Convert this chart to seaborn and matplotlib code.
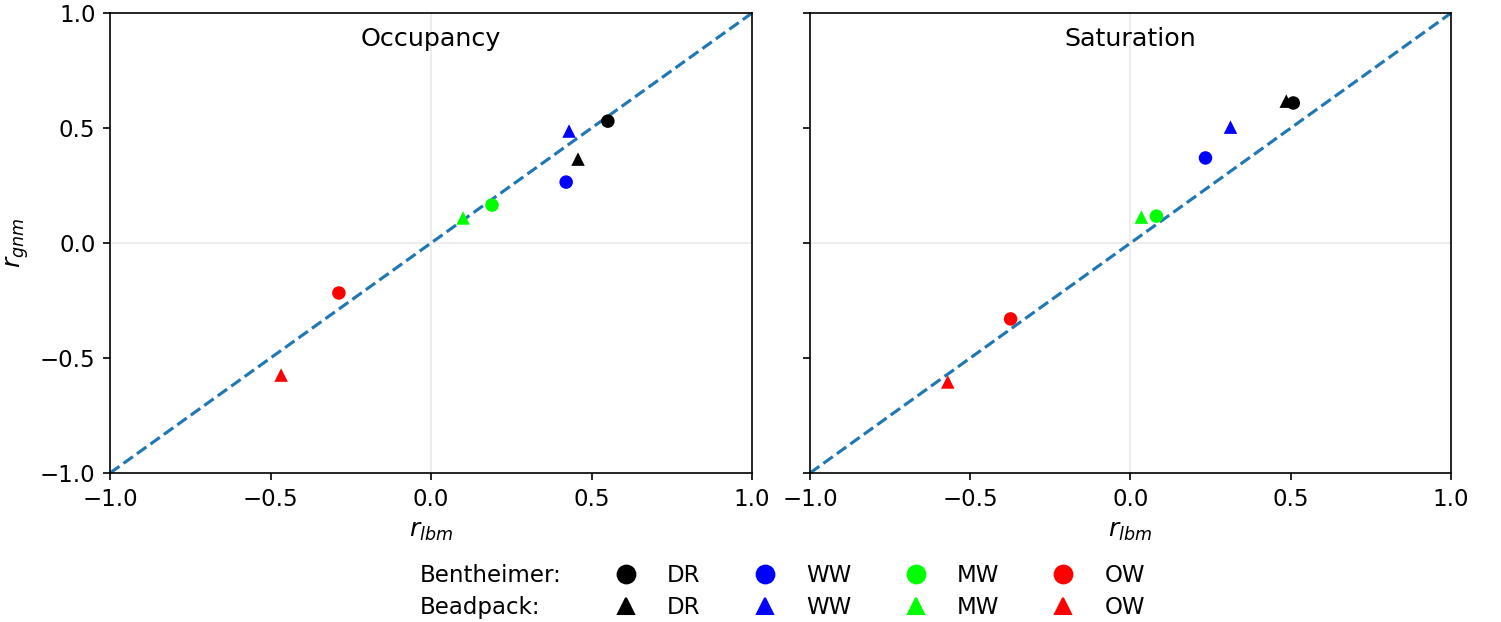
import matplotlib
matplotlib.use("Agg")
import matplotlib.pyplot as plt
from matplotlib.lines import Line2D
import pandas as pd
import seaborn as sns

# Correlation coefficients r_lbm (x) vs r_gnm (y) for each wettability class
wettability = ["DR", "WW", "MW", "OW"]
colors = ["black", "blue", "#00ff00", "red"]

# Occupancy panel
occ_bent_x = [0.551, 0.421, 0.190, -0.287]
occ_bent_y = [0.530, 0.265, 0.165, -0.217]
occ_bead_x = [0.458, 0.430, 0.100, -0.467]
occ_bead_y = [0.365, 0.487, 0.109, -0.574]

# Saturation panel
sat_bent_x = [0.508, 0.234, 0.081, -0.374]
sat_bent_y = [0.609, 0.370, 0.117, -0.330]
sat_bead_x = [0.486, 0.312, 0.034, -0.570]
sat_bead_y = [0.617, 0.504, 0.113, -0.604]

diag = [-1.0, 1.0]
ticks = [-1.0, -0.5, 0.0, 0.5, 1.0]
panels = ["Occupancy", "Saturation"]

sns.set_style("ticks")
plt.rcParams["font.family"] = ["DejaVu Sans"]
plt.rcParams["font.size"] = 11
for key in ["axes.edgecolor", "xtick.color", "ytick.color", "text.color",
            "axes.labelcolor"]:
    plt.rcParams[key] = "black"

rows = []
for panel, bx, by, dx, dy in [
    ("Occupancy", occ_bent_x, occ_bent_y, occ_bead_x, occ_bead_y),
    ("Saturation", sat_bent_x, sat_bent_y, sat_bead_x, sat_bead_y),
]:
    for w, x, y in zip(wettability, dx, dy):
        rows.append({"panel": panel, "rock": "Beadpack", "wett": w, "x": x, "y": y})
    for w, x, y in zip(wettability, bx, by):
        rows.append({"panel": panel, "rock": "Bentheimer", "wett": w, "x": x, "y": y})
df = pd.DataFrame(rows)

palette = dict(zip(wettability, colors))
markers = {"Bentheimer": "o", "Beadpack": "^"}

fig = plt.figure(figsize=(1501 / 150, 622 / 150), dpi=150)
ax1 = fig.add_axes([0.0733, 0.2395, 0.4277, 0.7395])
ax2 = fig.add_axes([0.5396, 0.2395, 0.4271, 0.7395], sharey=ax1)

for ax, panel in zip([ax1, ax2], panels):
    ax.axhline(0, color="0.93", lw=1, zorder=0)
    ax.axvline(0, color="0.93", lw=1, zorder=0)
    sns.lineplot(x=diag, y=diag, ax=ax, color="#1f77b4", linestyle="--",
                 lw=1.5, zorder=1)
    sub = df[df["panel"] == panel]
    sns.scatterplot(data=sub, x="x", y="y", hue="wett", style="rock",
                    palette=palette, markers=markers, s=42, linewidth=0,
                    legend=False, ax=ax, zorder=3)
    ax.set_xlim(-1, 1)
    ax.set_ylim(-1, 1)
    ax.set_xticks(ticks)
    ax.set_yticks(ticks)
    ax.set_xlabel(r"$r_{lbm}$", fontsize=12)
    ax.text(0.5, 0.928, panel, transform=ax.transAxes, ha="center",
            va="baseline", fontsize=12.2)
    for sp in ax.spines.values():
        sp.set_visible(True)
        sp.set_linewidth(0.8)

ax1.set_ylabel(r"$r_{gnm}$", fontsize=12)
ax2.set_ylabel("")
ax2.tick_params(labelleft=False)

# Legend grid: rock type labels in the first column, wettability classes after
blank = Line2D([], [], linestyle="none", marker="none")
handles = [blank, blank]
labels = ["Bentheimer:", "Beadpack:"]
for w, c in zip(wettability, colors):
    handles.append(Line2D([], [], linestyle="none", marker="o", color=c,
                          markersize=8.5))
    handles.append(Line2D([], [], linestyle="none", marker="^", color=c,
                          markersize=8))
    labels += [w, w]
fig.legend(handles, labels, ncol=5, frameon=False, loc="lower center",
           bbox_to_anchor=(0.5, -0.028), fontsize=11, columnspacing=1.8,
           labelspacing=0.37)

fig.savefig("out.png", dpi=150)
